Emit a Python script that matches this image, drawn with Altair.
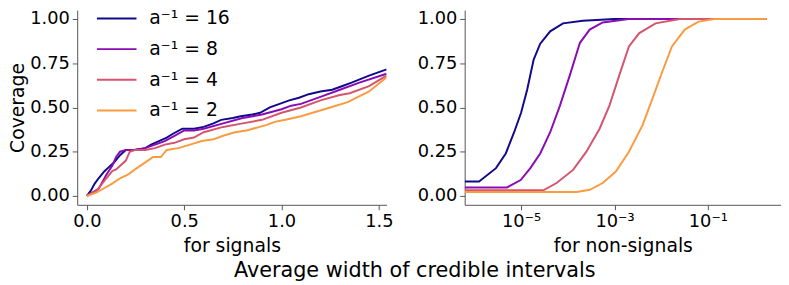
import altair as alt
import pandas as pd

series = ["a⁻¹ = 16", "a⁻¹ = 8", "a⁻¹ = 4", "a⁻¹ = 2"]
colors = ["#110a8c", "#8a0cb4", "#d5546e", "#fb9b41"]

# Left panel: coverage vs average width (signals)
sig_w16 = [0.0, 0.02, 0.04, 0.06, 0.09, 0.11, 0.14, 0.17, 0.2, 0.24, 0.3, 0.33, 0.37, 0.41, 0.44, 0.49, 0.55, 0.6, 0.65, 0.69, 0.75, 0.79, 0.85, 0.89, 0.94, 0.99, 1.04, 1.09, 1.14, 1.2, 1.26, 1.31, 1.36, 1.45, 1.54]
sig_c16 = [0.0, 0.03, 0.07, 0.10, 0.14, 0.16, 0.19, 0.23, 0.26, 0.26, 0.27, 0.29, 0.31, 0.33, 0.35, 0.38, 0.38, 0.39, 0.41, 0.43, 0.44, 0.45, 0.46, 0.47, 0.50, 0.52, 0.54, 0.555, 0.575, 0.59, 0.60, 0.62, 0.64, 0.68, 0.715]
sig_w8 = [0.0, 0.03, 0.06, 0.1, 0.13, 0.15, 0.17, 0.2, 0.25, 0.3, 0.35, 0.4, 0.45, 0.5, 0.55, 0.6, 0.7, 0.8, 0.9, 1.0, 1.05, 1.1, 1.2, 1.3, 1.4, 1.54]
sig_c8 = [0.0, 0.02, 0.04, 0.12, 0.17, 0.22, 0.25, 0.26, 0.26, 0.27, 0.29, 0.31, 0.34, 0.37, 0.37, 0.38, 0.41, 0.44, 0.46, 0.49, 0.51, 0.52, 0.56, 0.60, 0.64, 0.69]
sig_w4 = [0.0, 0.05, 0.1, 0.13, 0.15, 0.2, 0.22, 0.25, 0.3, 0.35, 0.4, 0.45, 0.5, 0.55, 0.6, 0.7, 0.8, 0.9, 1.0, 1.1, 1.2, 1.3, 1.35, 1.45, 1.54]
sig_c4 = [0.0, 0.03, 0.10, 0.14, 0.15, 0.2, 0.25, 0.26, 0.26, 0.27, 0.29, 0.30, 0.32, 0.33, 0.36, 0.39, 0.41, 0.43, 0.47, 0.50, 0.54, 0.57, 0.58, 0.62, 0.68]
sig_w2 = [0.0, 0.05, 0.09, 0.13, 0.17, 0.21, 0.26, 0.3, 0.34, 0.38, 0.41, 0.47, 0.53, 0.59, 0.65, 0.7, 0.76, 0.82, 0.92, 0.97, 1.02, 1.1, 1.16, 1.25, 1.34, 1.45, 1.54]
sig_c2 = [0.0, 0.02, 0.045, 0.07, 0.10, 0.12, 0.16, 0.19, 0.22, 0.22, 0.26, 0.27, 0.29, 0.31, 0.32, 0.34, 0.36, 0.37, 0.40, 0.42, 0.43, 0.45, 0.47, 0.50, 0.53, 0.59, 0.67]

# Right panel: coverage vs average width (non-signals), log scale
non_w16 = [6.2e-7, 1.26e-6, 2.9e-6, 4.7e-6, 7.1e-6, 1.0e-5, 1.35e-5, 1.86e-5, 2.57e-5, 4.2e-5, 7.9e-5, 2.1e-4, 1.0e-3, 1.78]
non_c16 = [0.082, 0.082, 0.157, 0.24, 0.36, 0.47, 0.60, 0.77, 0.86, 0.93, 0.975, 0.99, 1.0, 1.0]
non_w8 = [6.2e-7, 5.0e-6, 9.8e-6, 1.58e-5, 2.57e-5, 4.2e-5, 6.8e-5, 1.1e-4, 1.82e-4, 2.95e-4, 5.6e-4, 2.0e-3, 1.78]
non_c8 = [0.048, 0.048, 0.09, 0.157, 0.24, 0.36, 0.51, 0.68, 0.865, 0.94, 0.98, 1.0, 1.0]
non_w4 = [6.2e-7, 3.0e-5, 5.75e-5, 1.3e-4, 2.5e-4, 4.8e-4, 7.8e-4, 1.26e-3, 2.04e-3, 3.4e-3, 7.6e-3, 0.025, 1.78]
non_c4 = [0.032, 0.032, 0.073, 0.147, 0.25, 0.38, 0.51, 0.68, 0.845, 0.92, 0.975, 1.0, 1.0]
non_w2 = [6.2e-7, 1.55e-4, 2.95e-4, 5.6e-4, 1.07e-3, 2.04e-3, 4.0e-3, 6.5e-3, 0.0105, 0.017, 0.032, 0.063, 0.138, 1.78]
non_c2 = [0.022, 0.022, 0.035, 0.073, 0.138, 0.25, 0.40, 0.55, 0.70, 0.845, 0.94, 0.985, 1.0, 1.0]

def long(pairs):
    rows = []
    for s, (ws, cs) in zip(series, pairs):
        for i, (w, c) in enumerate(zip(ws, cs)):
            rows.append({"series": s, "width": w, "coverage": c, "order": i})
    return pd.DataFrame(rows)

left_df = long([(sig_w16, sig_c16), (sig_w8, sig_c8), (sig_w4, sig_c4), (sig_w2, sig_c2)])
right_df = long([(non_w16, non_c16), (non_w8, non_c8), (non_w4, non_c4), (non_w2, non_c2)])

FONT = "DejaVu Sans"
color_scale = alt.Scale(domain=series, range=colors)
y_scale = alt.Scale(domain=[-0.05, 1.05], nice=False, zero=False)
y_axis = alt.Axis(values=[0, 0.25, 0.5, 0.75, 1.0], format=".2f", titlePadding=2)
x_title_pad = 6

left = alt.Chart(left_df).mark_line(strokeWidth=2, clip=True).encode(
    x=alt.X("width:Q", scale=alt.Scale(domain=[-0.05, 1.54], nice=False, zero=False),
            axis=alt.Axis(values=[0, 0.5, 1.0, 1.5], format=".1f", titlePadding=x_title_pad),
            title="for signals"),
    y=alt.Y("coverage:Q", scale=y_scale, axis=y_axis, title="Coverage"),
    color=alt.Color("series:N", scale=color_scale, sort=series,
                    legend=alt.Legend(title=None, orient="none", legendX=19, legendY=-12.5,
                                      symbolType="stroke", symbolSize=1600, symbolStrokeWidth=2,
                                      labelFontSize=19, labelOffset=12, rowPadding=-5, padding=0,
                                      labelFont=FONT)),
    order="order:Q",
).properties(width=313, height=197)

right = alt.Chart(right_df).mark_line(strokeWidth=2, clip=True).encode(
    x=alt.X("width:Q", scale=alt.Scale(type="log", domain=[6.2e-7, 3.68], nice=False),
            axis=alt.Axis(values=[1e-5, 1e-3, 1e-1], titlePadding=x_title_pad,
                          labelExpr="datum.value < 1e-4 ? '10⁻⁵' : (datum.value < 1e-2 ? '10⁻³' : '10⁻¹')"),
            title="for non-signals"),
    y=alt.Y("coverage:Q", scale=y_scale, axis=y_axis, title=None),
    color=alt.Color("series:N", scale=color_scale, sort=series, legend=None),
    order="order:Q",
).properties(width=320, height=197)

chart = alt.hconcat(left, right, spacing=23).properties(
    title=alt.TitleParams("Average width of credible intervals", orient="bottom", anchor="middle",
                          fontSize=21, fontWeight="normal", font=FONT, offset=5, dx=20),
    padding={"left": 0, "top": -12.5, "right": 0, "bottom": 0},
).configure_view(stroke=None).configure_axis(
    grid=False, labelFont=FONT, titleFont=FONT, labelFontSize=18, titleFontSize=19,
    titleFontWeight="normal", labelColor="black", titleColor="black",
    domainColor="#555", tickColor="#555", tickSize=5, labelPadding=3,
).configure_legend(labelColor="black")

chart.save("out.html", embed_options={"renderer": "svg", "actions": False})
